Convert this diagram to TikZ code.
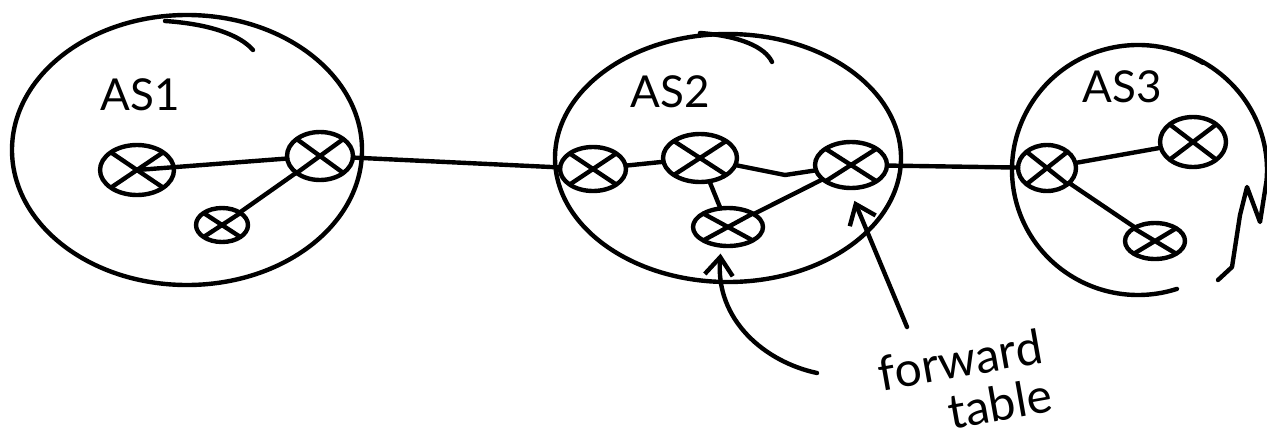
\documentclass[tikz,border=0pt]{standalone}
\usepackage{fontspec}
\setmainfont{Lato}
\usetikzlibrary{shapes.geometric,arrows.meta}
\begin{document}
\begin{tikzpicture}[x=0.5pt,y=-0.5pt,
  line width=2.2pt, line cap=round, line join=round,
  router/.style={draw, ellipse, inner sep=0pt, outer sep=0pt,
    path picture={\draw[line width=2.2pt]
      (path picture bounding box.south west) -- (path picture bounding box.north east)
      (path picture bounding box.north west) -- (path picture bounding box.south east);}},
  pointer/.style={-{Straight Barb[length=9pt,width=14pt,line width=2.2pt]}},
  aslabel/.style={font=\fontsize{22}{24}\selectfont},
  note/.style={font=\fontsize{24}{26}\selectfont, rotate=10, inner sep=0pt, align=left}]
\useasboundingbox (0,0) rectangle (1267,445);

% AS outlines
\draw (187,150) ellipse [x radius=87.5pt, y radius=67.5pt];
\draw (165,21) .. controls (210,24) and (240,35) .. (253,50);
\draw (728,158) ellipse [x radius=86.5pt, y radius=62pt];
\draw (700,33) .. controls (740,36) and (765,47) .. (772,62);
\draw ([shift={(59:63pt and 62.5pt)}]1138,170) arc[start angle=59, end angle=288, x radius=63pt, y radius=62.5pt];
\draw ([shift={(72:64.5pt and 62.5pt)}]1138,170) arc[start angle=72, end angle=-5, x radius=64.5pt, y radius=62.5pt]
  -- (1260,222) -- (1247,187) -- (1240,215) -- (1232,267) -- (1218,280);

% labels
\node[aslabel] (l1) at (140,95) {AS1};
\node[aslabel] (l2) at (670,92) {AS2};
\node[aslabel] (l3) at (1122,87) {AS3};

% routers AS1
\node[router, minimum width=37pt, minimum height=25pt] (r1a) at (137,170) {};
\node[router, minimum width=33pt, minimum height=24pt] (r1b) at (320,156) {};
\node[router, minimum width=26pt, minimum height=17pt] (r1c) at (222,225) {};
% routers AS2
\node[router, minimum width=33pt, minimum height=22pt] (a2a) at (593,169) {};
\node[router, minimum width=37pt, minimum height=24pt] (a2b) at (700,158) {};
\node[router, minimum width=36pt, minimum height=23pt] (a2c) at (851,165) {};
\node[router, minimum width=35pt, minimum height=19pt] (a2d) at (728,227) {};
% routers AS3
\node[router, minimum width=29pt, minimum height=23pt] (a3p) at (1047,168) {};
\node[router, minimum width=33pt, minimum height=25pt] (a3q) at (1193,142) {};
\node[router, minimum width=30pt, minimum height=18pt] (a3r) at (1155,241) {};

% links
\coordinate (kink) at (785,175);
\draw (r1a.center) -- (r1b);
\draw (r1b) -- (r1c);
\draw (r1b) -- (a2a);
\draw (a2a) -- (a2b);
\draw (a2b) -- (kink) -- (a2c);
\draw (a2b) -- (a2d);
\draw (a2d) -- (a2c);
\draw (a2c) -- (a3p);
\draw (a3p) -- (a3q);
\draw (a3p) -- (a3r);

% forward table note
\node[note] (ft) at (965,384) {forward\\[-1pt]\hspace*{31pt}table};
\coordinate (t1) at (817,373);
\coordinate (t2) at (907,327);
\draw[pointer, shorten >=4pt] (t1) .. controls (765,362) and (715,320) .. (a2d.250);
\draw[pointer, shorten >=7pt] (t2) -- (a2c.265);
\end{tikzpicture}
\end{document}
